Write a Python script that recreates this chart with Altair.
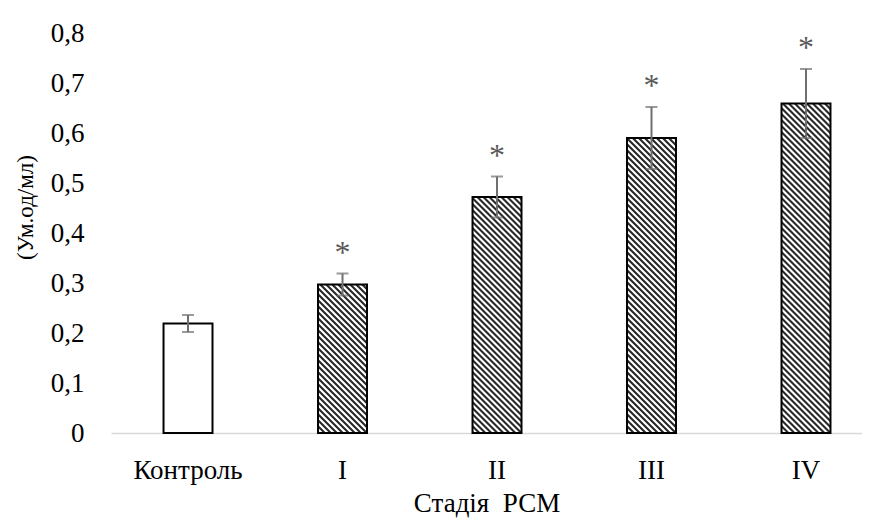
import altair as alt
import pandas as pd

# ---- data ----
categories = ["Контроль", "I", "II", "III", "IV"]
values = [0.219, 0.297, 0.472, 0.590, 0.659]
errors = [0.017, 0.022, 0.041, 0.062, 0.069]
stars = ["", "*", "*", "*", "*"]
y_ticks = [0, 0.1, 0.2, 0.3, 0.4, 0.5, 0.6, 0.7, 0.8]

df = pd.DataFrame({"cat": categories, "val": values, "err": errors, "star": stars})
df["lo"] = df["val"] - df["err"]
df["hi"] = df["val"] + df["err"]

# ---- layout ----
W, H = 751, 400
YMAX = 0.8
PI, PO, ALIGN = 0.683, 0.272, 0.625
step = W / (len(categories) - PI + 2 * PO)
bw = step * (1 - PI)
FONT = "Liberation Serif"
DARK, LIGHT = "#2a2a2a", "#ffffff"


def hatch(v):
    """45-degree diagonal hatch as a linear gradient in bounding-box units."""
    h = v / YMAX * H
    w = bw
    a = (w + h) / (w * w + h * h)
    period = 6.0
    n = (w + h) / period
    stops = []
    k = 0
    while k < n:
        for frac, col in [(0.0, DARK), (0.28, DARK), (0.5, LIGHT), (0.78, LIGHT)]:
            off = (k + frac) / n
            if off <= 1:
                stops.append(alt.GradientStop(offset=off, color=col))
        k += 1
    return alt.LinearGradient(gradient="linear", stops=stops,
                              x1=0, y1=1, x2=a * w, y2=1 - a * h)


xscale = alt.Scale(domain=categories, paddingInner=PI, paddingOuter=PO, align=ALIGN)
yscale = alt.Scale(domain=[0, YMAX], nice=False)

x_enc = alt.X("cat:N", sort=categories, scale=xscale,
              axis=alt.Axis(title="Стадія\u00a0 РСМ", labelAngle=0, ticks=False,
                            domainColor="#d9d9d9", domainWidth=1.5, grid=False,
                            labelFont=FONT, labelFontSize=27, labelColor="#000000",
                            labelPadding=24, titleFont=FONT, titleFontSize=27,
                            titleFontWeight="normal", titleColor="#000000",
                            titleY=78, titleBaseline="alphabetic"))
y_enc = alt.Y("val:Q", scale=yscale,
              axis=alt.Axis(title="(Ум.од/мл)", values=y_ticks, domain=False, ticks=False,
                            grid=False, labelFont=FONT, labelFontSize=27,
                            labelColor="#000000", labelPadding=27,
                            labelExpr="datum.value == 0 ? '0' : replace(format(datum.value, '.1f'), '.', ',')",
                            titleFont=FONT, titleFontSize=23, titleFontWeight="normal",
                            titleColor="#000000", titleX=-86, titleY=174,
                            titleBaseline="middle", titleAngle=-90))

base = alt.Chart(df)

layers = [
    base.transform_filter(alt.datum.cat == categories[0])
    .mark_bar(fill="white", stroke="black", strokeWidth=2)
    .encode(x=x_enc, y=y_enc)
]
for c, v in zip(categories[1:], values[1:]):
    layers.append(
        base.transform_filter(alt.datum.cat == c)
        .mark_bar(fill=hatch(v), stroke="black", strokeWidth=2)
        .encode(x=alt.X("cat:N", sort=categories, scale=xscale),
                y=alt.Y("val:Q", scale=yscale))
    )

ERR = "#6f6f6f"
layers.append(base.mark_rule(color=ERR, strokeWidth=2).encode(
    x=alt.X("cat:N", sort=categories, scale=xscale),
    y=alt.Y("lo:Q", scale=yscale), y2="hi:Q"))
for col in ["lo", "hi"]:
    layers.append(base.mark_tick(color=ERR, thickness=2, size=12).encode(
        x=alt.X("cat:N", sort=categories, scale=xscale),
        y=alt.Y(f"{col}:Q", scale=yscale)))
layers.append(base.mark_text(font=FONT, fontSize=32, color="#595959",
                             baseline="alphabetic", dy=-11).encode(
    x=alt.X("cat:N", sort=categories, scale=xscale),
    y=alt.Y("hi:Q", scale=yscale), text="star:N"))

chart = alt.layer(*layers).properties(
    width=W, height=H,
    autosize=alt.AutoSizeParams(type="none"),
    padding={"left": 103, "top": 25, "right": 0, "bottom": 87},
).configure_view(strokeWidth=0)

chart.save("out.html", embed_options={"renderer": "svg", "actions": False})
